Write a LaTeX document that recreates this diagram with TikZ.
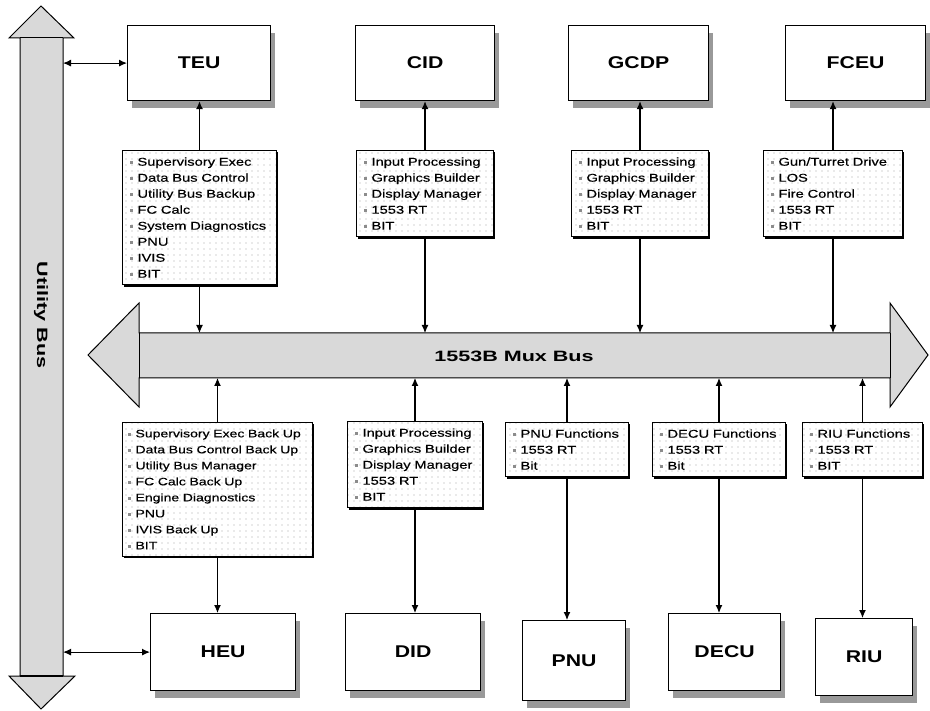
\documentclass[tikz,border=0pt]{standalone}
\usepackage{fontspec}
\setmainfont{Liberation Sans}
\newfontfamily\listfont{Liberation Sans}[FakeStretch=1.3,FakeBold=0.4]
\newfontfamily\titlefont{Liberation Sans}[FakeStretch=1.25]
\usetikzlibrary{patterns.meta,shadows,arrows.meta}

\tikzdeclarepattern{
  name=listdots,
  type=uncolored,
  bounding box={(-3pt,-3pt) and (3pt,3pt)},
  tile size={(6pt,6pt)},
  code={\fill (0pt,0pt) circle (0.55pt);}
}
\newcommand{\itm}{{\color{black!45}\rule[1.5pt]{3pt}{3pt}}\hspace{5pt}}

\begin{document}
\begin{tikzpicture}[x=1pt,y=-1pt,
	unit/.style={draw,line width=1.2pt,fill=white,anchor=north west,inner sep=0pt,
		font=\titlefont\bfseries\fontsize{17}{19}\selectfont,
		drop shadow={shadow xshift=4pt,shadow yshift=-7pt,fill=black!40,opacity=1}},
	funclist/.style={draw,line width=1pt,anchor=north west,align=left,
		inner xsep=7pt,inner ysep=7pt,font=\listfont\fontsize{11.3}{16}\selectfont,
		drop shadow={shadow xshift=1pt,shadow yshift=-2pt,fill=black,opacity=1},
		preaction={fill=white},pattern={listdots},pattern color=black!35},
	bus/.style={draw,line width=1pt,fill=black!15},
	link/.style={line width=1.1pt,-{Latex[length=8pt,width=7pt]}},
	duallink/.style={line width=1.1pt,{Latex[length=8pt,width=7pt]}-{Latex[length=8pt,width=7pt]}},
	buslabel/.style={font=\titlefont\bfseries\fontsize{15}{17}\selectfont}]
		\useasboundingbox (0,0) rectangle (930,711);
		\draw [bus] (41,6) -- (74,38) -- (63,38) -- (63,676) -- (75,676) -- (41,709) -- (9,676) -- (20,676) -- (20,38) -- (9,38) -- cycle;
		\draw [line width=1pt] (20,38) -- (63,38);
		\draw [line width=1.6pt] (20,676) -- (63,676);
		\node [buslabel,rotate=-90,xscale=1.15] (utilbus) at (41,315) {Utility Bus};
		\coordinate (utiledge) at (63,0);
		\draw [bus] (88,355) -- (139,303) -- (139,333) -- (890,333) -- (890,303) -- (928,355) -- (890,407) -- (890,378) -- (139,378) -- (139,407) -- cycle;
		\draw [line width=1pt] (139,333) -- (139,378);
		\draw [line width=1pt] (890,333) -- (890,378);
		\node [buslabel,xscale=1.15] (muxbus) at (514,356) {1553B Mux Bus};
		\coordinate (muxtop) at (0,333);
		\coordinate (muxbot) at (0,378);
		\node [unit,minimum width=143pt,minimum height=75pt] (teu) at (127,25) {TEU};
		\node [unit,minimum width=139pt,minimum height=75pt] (cid) at (355,25) {CID};
		\node [unit,minimum width=140pt,minimum height=75pt] (gcdp) at (568,25) {GCDP};
		\node [unit,minimum width=140pt,minimum height=75pt] (fceu) at (785,25) {FCEU};
		\node [unit,minimum width=145pt,minimum height=77pt] (heu) at (150,613) {HEU};
		\node [unit,minimum width=135pt,minimum height=77pt] (did) at (345,613) {DID};
		\node [unit,minimum width=103pt,minimum height=80pt] (pnu) at (522,620) {PNU};
		\node [unit,minimum width=112pt,minimum height=77pt] (decu) at (668,613) {DECU};
		\node [unit,minimum width=97pt,minimum height=77pt] (riu) at (815,618) {RIU};
		\node [funclist,text width=140pt] (teufn) at (122,150) {\itm Supervisory Exec\\ \itm Data Bus Control\\ \itm Utility Bus Backup\\ \itm FC Calc\\ \itm System Diagnostics\\ \itm PNU\\ \itm IVIS\\ \itm BIT};
		\node [funclist,text width=123pt] (cidfn) at (356,150) {\itm Input Processing\\ \itm Graphics Builder\\ \itm Display Manager\\ \itm 1553 RT\\ \itm BIT};
		\node [funclist,text width=123pt] (gcdpfn) at (571,150) {\itm Input Processing\\ \itm Graphics Builder\\ \itm Display Manager\\ \itm 1553 RT\\ \itm BIT};
		\node [funclist,text width=125pt] (fceufn) at (763,150) {\itm Gun/Turret Drive\\ \itm LOS\\ \itm Fire Control\\ \itm 1553 RT\\ \itm BIT};
		\node [funclist,text width=180pt,inner xsep=5pt,font=\listfont\fontsize{10.8}{16}\selectfont] (heufn) at (122,422) {\itm Supervisory Exec Back Up\\ \itm Data Bus Control Back Up\\ \itm Utility Bus Manager\\ \itm FC Calc Back Up\\ \itm Engine Diagnostics\\ \itm PNU\\ \itm IVIS Back Up\\ \itm BIT};
		\node [funclist,text width=121pt] (didfn) at (347,421) {\itm Input Processing\\ \itm Graphics Builder\\ \itm Display Manager\\ \itm 1553 RT\\ \itm BIT};
		\node [funclist,text width=109pt] (pnufn) at (505,422) {\itm PNU Functions\\ \itm 1553 RT\\ \itm Bit};
		\node [funclist,text width=119pt] (decufn) at (652,422) {\itm DECU Functions\\ \itm 1553 RT\\ \itm Bit};
		\node [funclist,text width=106pt] (riufn) at (802,422) {\itm RIU Functions\\ \itm 1553 RT\\ \itm BIT};
		\draw [link] (teufn.north) -- (teufn.north |- teu.south);
		\draw [link] (cidfn.north) -- (cidfn.north |- cid.south);
		\draw [link] (gcdpfn.north) -- (gcdpfn.north |- gcdp.south);
		\draw [link] (fceufn.north) -- (fceufn.north |- fceu.south);
		\draw [link] (teufn.south) -- (teufn.south |- muxtop);
		\draw [link] (cidfn.south) -- (cidfn.south |- muxtop);
		\draw [link] (gcdpfn.south) -- (gcdpfn.south |- muxtop);
		\draw [link] (fceufn.south) -- (fceufn.south |- muxtop);
		\draw [link] (heufn.north) -- (heufn.north |- muxbot);
		\draw [link] (didfn.north) -- (didfn.north |- muxbot);
		\draw [link] (pnufn.north) -- (pnufn.north |- muxbot);
		\draw [link] (decufn.north) -- (decufn.north |- muxbot);
		\draw [link] (riufn.north) -- (riufn.north |- muxbot);
		\draw [link] (heufn.south) -- (heufn.south |- heu.north);
		\draw [link] (didfn.south) -- (didfn.south |- did.north);
		\draw [link] (pnufn.south) -- (pnufn.south |- pnu.north);
		\draw [link] (decufn.south) -- (decufn.south |- decu.north);
		\draw [link] (riufn.south) -- (riufn.south |- riu.north);
		\draw [duallink] (teu.west -| utiledge) -- (teu.west);
		\draw [duallink] (heu.west -| utiledge) -- (heu.west);
\end{tikzpicture}
\end{document}
